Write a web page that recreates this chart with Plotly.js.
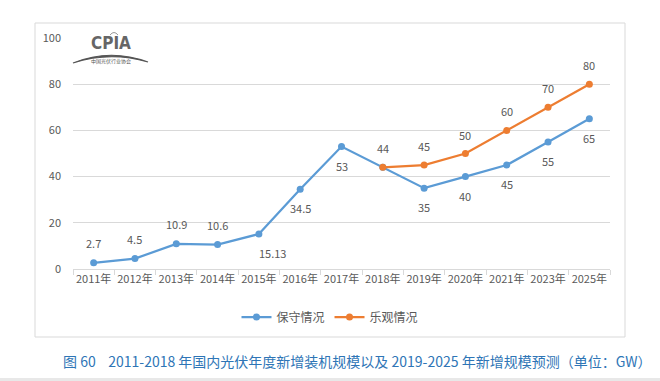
<!DOCTYPE html>
<html>
<head>
<meta charset="utf-8">
<script src="https://cdn.plot.ly/plotly-3.0.1.min.js"></script>
<style>
html,body{margin:0;padding:0;background:#fff;}
#chart{width:660px;height:381px;}
</style>
</head>
<body>
<div id="chart"></div>
<script>
var categories = ['2011年','2012年','2013年','2014年','2015年','2016年','2017年','2018年','2019年','2020年','2021年','2023年','2025年'];
var conservative = [2.7, 4.5, 10.9, 10.6, 15.13, 34.5, 53, 44, 35, 40, 45, 55, 65];
var optimistic = [null, null, null, null, null, null, null, 44, 45, 50, 60, 70, 80];
var conservativeLabels = ['2.7','4.5','10.9','10.6','15.13','34.5','53','','35','40','45','55','65'];
var optimisticLabels = ['','','','','','','','44','45','50','60','70','80'];
var yTicks = [0, 20, 40, 60, 80, 100];
var seriesNames = ['保守情况', '乐观情况'];
var caption = '图 60&nbsp;&nbsp;&nbsp;&nbsp;2011-2018 年国内光伏年度新增装机规模以及 2019-2025 年新增规模预测（单位：GW）';

var FONT = '"Noto Sans CJK SC", "Noto Sans", sans-serif';
var GREY = '#595959';

// pixel -> paper helpers (plot area: x 73..610, y 38..269)
var L = 73, R = 610, T = 38, B = 269;
function px(x){ return (x - L) / (R - L); }
function py(y){ return (B - y) / (B - T); }

var traces = [
  {
    x: categories, y: conservative, name: seriesNames[0],
    type: 'scatter', mode: 'lines+markers',
    line: {color: '#5b9bd5', width: 2.25},
    marker: {color: '#5b9bd5', size: 7},
    cliponaxis: false
  },
  {
    x: categories, y: optimistic, name: seriesNames[1],
    type: 'scatter', mode: 'lines+markers',
    line: {color: '#ed7d31', width: 2.25},
    marker: {color: '#ed7d31', size: 7},
    cliponaxis: false, connectgaps: false
  }
];

var labelAnns = [];
conservative.forEach(function(v, i){
  if (!conservativeLabels[i]) return;
  var above = i < 4;
  labelAnns.push({x: categories[i], y: v, xref: 'x', yref: 'y', text: conservativeLabels[i],
    showarrow: false, xanchor: 'center', yanchor: 'middle',
    yshift: above ? 20 : -19, xshift: i === 4 ? 14 : 0,
    font: {family: FONT, size: 11, color: GREY}});
});
optimistic.forEach(function(v, i){
  if (v === null || !optimisticLabels[i]) return;
  labelAnns.push({x: categories[i], y: v, xref: 'x', yref: 'y', text: optimisticLabels[i],
    showarrow: false, xanchor: 'center', yanchor: 'middle', yshift: 19,
    font: {family: FONT, size: 11, color: GREY}});
});

var layout = {
  width: 660, height: 381,
  margin: {l: L, r: 660 - R, t: T, b: 381 - B},
  paper_bgcolor: '#ffffff', plot_bgcolor: '#ffffff',
  font: {family: FONT, size: 11, color: GREY},
  showlegend: true,
  legend: {orientation: 'h', x: px(330), xanchor: 'center', y: py(317), yanchor: 'middle',
           font: {family: FONT, size: 12, color: GREY}, bgcolor: 'rgba(0,0,0,0)'},
  xaxis: {
    type: 'category', range: [-0.5, 12.5],
    showgrid: false, zeroline: false,
    showline: true, linecolor: '#d9d9d9', linewidth: 1,
    ticks: 'outside', tickson: 'boundaries', ticklen: 5, tickcolor: '#d9d9d9',
    tickfont: {family: FONT, size: 11, color: GREY},
    tickangle: 0, fixedrange: true
  },
  yaxis: {
    range: [0, 100], tickvals: yTicks, ticktext: yTicks.map(String),
    showgrid: true, gridcolor: '#d9d9d9', gridwidth: 1,
    zeroline: false, showline: false, ticks: '',
    tickfont: {family: FONT, size: 11, color: GREY},
    ticklabelstandoff: 11, fixedrange: true
  },
  shapes: [
    {type: 'rect', xref: 'paper', yref: 'paper', x0: px(35), x1: px(625), y0: py(337), y1: py(23),
     line: {color: '#d9d9d9', width: 1}, fillcolor: 'rgba(0,0,0,0)', layer: 'below'},
    {type: 'rect', xref: 'paper', yref: 'paper', x0: px(0), x1: px(660), y0: py(381), y1: py(378),
     line: {width: 0}, fillcolor: '#e8e8e8', layer: 'below'},
    {type: 'path', xref: 'paper', yref: 'paper',
     path: 'M' + px(73) + ',' + py(63) + ' Q' + px(110) + ',' + py(48) + ' ' + px(148) + ',' + py(62) +
           ' Q' + px(110) + ',' + py(51) + ' ' + px(73) + ',' + py(63) + ' Z',
     line: {color: '#555555', width: 1.2}, fillcolor: '#555555'},
    {type: 'path', xref: 'paper', yref: 'paper',
     path: 'M' + px(110) + ',' + py(35) + ' Q' + px(114) + ',' + py(30) + ' ' + px(118) + ',' + py(35),
     line: {color: '#999999', width: 1}}
  ],
  annotations: labelAnns.concat([
    {xref: 'paper', yref: 'paper', x: px(111), y: py(43), text: '<b>CPIA</b>', showarrow: false,
     font: {family: '"DejaVu Sans Condensed", "DejaVu Sans", sans-serif', size: 17, color: '#666666'}, xanchor: 'center', yanchor: 'middle'},
    {xref: 'paper', yref: 'paper', x: px(111), y: py(61), text: '中国光伏行业协会', showarrow: false,
     font: {family: FONT, size: 5, color: '#555555'}, xanchor: 'center', yanchor: 'middle'},
    {xref: 'paper', yref: 'paper', x: px(61), y: py(361), text: caption, showarrow: false,
     font: {family: FONT, size: 14, color: '#2e75b6'}, xanchor: 'left', yanchor: 'middle'}
  ])
};

Plotly.newPlot('chart', traces, layout, {displayModeBar: false, staticPlot: true});
</script>
</body>
</html>
